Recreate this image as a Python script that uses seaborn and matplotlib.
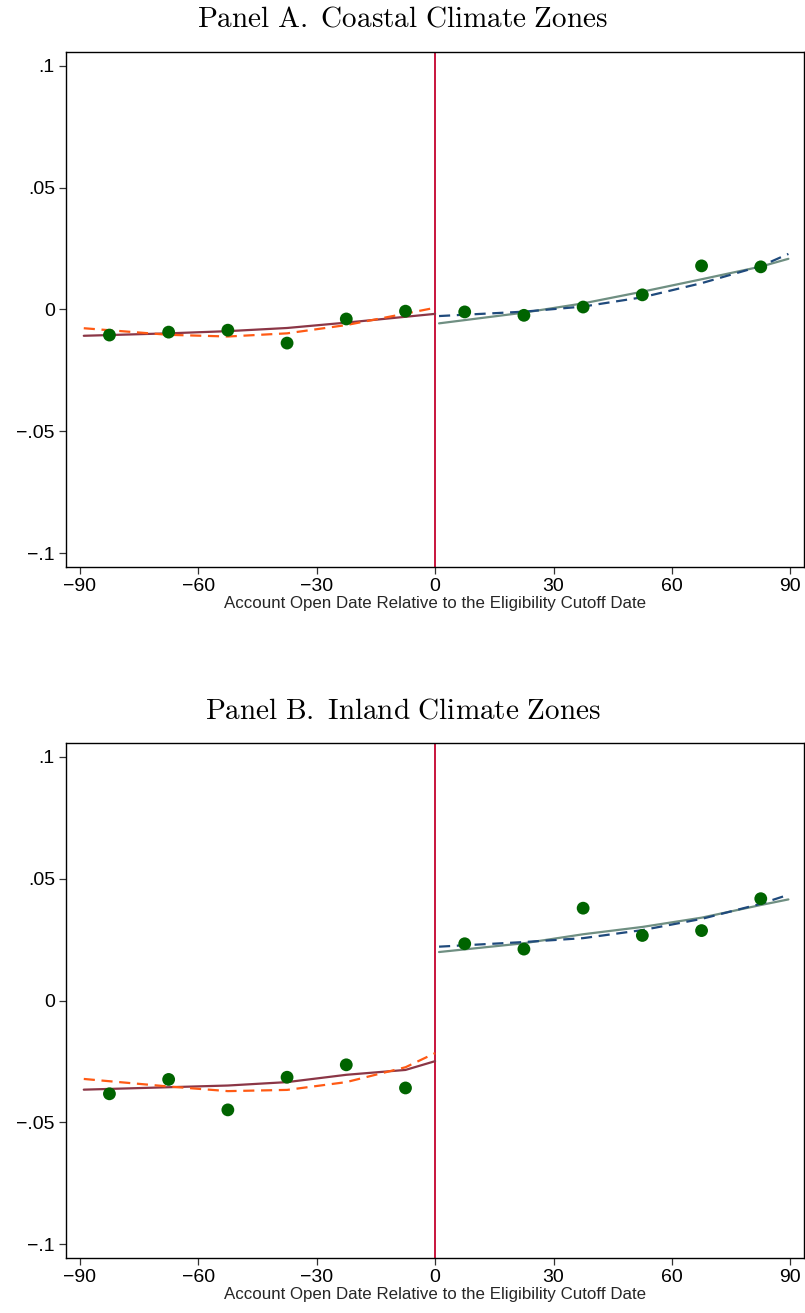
import seaborn as sns
from matplotlib import pyplot as plt
import pandas as pd
import numpy as np

sns.set_theme(style='white')
plt.rcParams['font.family'] = ['Liberation Sans', 'DejaVu Sans']
plt.rcParams['mathtext.fontset'] = 'cm'
plt.rcParams['text.color'] = 'black'
plt.rcParams['xtick.color'] = 'black'
plt.rcParams['ytick.color'] = 'black'

# binned means (15-day bins)
bins = [-82.5, -67.5, -52.5, -37.5, -22.5, -7.5, 7.5, 22.5, 37.5, 52.5, 67.5, 82.5]
coastal_pts = [-0.0105, -0.0093, -0.0085, -0.0138, -0.0039, -0.0007,
               -0.0010, -0.0024, 0.0010, 0.0060, 0.0179, 0.0175]
inland_pts = [-0.0383, -0.0324, -0.0449, -0.0315, -0.0264, -0.0359,
              0.0233, 0.0211, 0.0379, 0.0267, 0.0287, 0.0418]

# fitted curves, left and right of cutoff
left_x = [-89, -67.5, -52.5, -37.5, -22.5, -7.5, 0]
right_x = [1, 22.5, 37.5, 52.5, 67.5, 82.5, 89.5]

coastal_left_solid = [-0.0108, -0.0098, -0.0089, -0.0076, -0.0054, -0.0030, -0.0018]
coastal_left_dash = [-0.0077, -0.0104, -0.0111, -0.0098, -0.0064, -0.0017, 0.0007]
coastal_right_solid = [-0.0057, -0.0013, 0.0025, 0.0073, 0.0124, 0.0176, 0.0208]
coastal_right_dash = [-0.0027, -0.0009, 0.0012, 0.0050, 0.0108, 0.0178, 0.0228]

inland_left_solid = [-0.0366, -0.0356, -0.0349, -0.0335, -0.0305, -0.0285, -0.0249]
inland_left_dash = [-0.0322, -0.0353, -0.0372, -0.0367, -0.0335, -0.0274, -0.0216]
inland_right_solid = [0.0199, 0.0235, 0.0272, 0.0302, 0.0340, 0.0392, 0.0415]
inland_right_dash = [0.0221, 0.0240, 0.0256, 0.0289, 0.0335, 0.0397, 0.0434]

xticks = [-90, -60, -30, 0, 30, 60, 90]
xtick_labels = ['\u221290', '\u221260', '\u221230', '0', '30', '60', '90']
yticks = [-0.1, -0.05, 0, 0.05, 0.1]
ytick_labels = ['\u2212.1', '\u2212.05', '0', '.05', '.1']

titles = [r'$\mathrm{Panel\ A.\ Coastal\ Climate\ Zones}$',
          r'$\mathrm{Panel\ B.\ Inland\ Climate\ Zones}$']
xlabel = 'Account Open Date Relative to the Eligibility Cutoff Date'

fig = plt.figure(figsize=(8.05, 13.13), dpi=100)
ax_top = fig.add_axes([0.082, 0.5682, 0.917, 0.3922])
ax_bot = fig.add_axes([0.082, 0.0419, 0.917, 0.3922])

panels = [
    (ax_top, coastal_pts, coastal_left_solid, coastal_left_dash,
     coastal_right_solid, coastal_right_dash),
    (ax_bot, inland_pts, inland_left_solid, inland_left_dash,
     inland_right_solid, inland_right_dash),
]
title_y = [0.986, 0.459]

for i, (ax, pts, ls, ld, rs, rd) in enumerate(panels):
    ax.axvline(0, color='#C8143C', lw=1.4, zorder=1)
    sns.lineplot(x=left_x, y=ls, ax=ax, color='#8B3646', lw=1.6, zorder=2)
    sns.lineplot(x=left_x, y=ld, ax=ax, color='#FF5A14', lw=1.6,
                 linestyle=(0, (5, 3)), zorder=2)
    sns.lineplot(x=right_x, y=rs, ax=ax, color='#6F8F82', lw=1.6, zorder=2)
    sns.lineplot(x=right_x, y=rd, ax=ax, color='#1F4A7C', lw=1.6,
                 linestyle=(0, (5, 3)), zorder=2)
    sns.scatterplot(x=bins, y=pts, ax=ax, color='#006400', s=85,
                    edgecolor='none', zorder=3)

    ax.set_xlim(-93.5, 93.5)
    ax.set_ylim(-0.1057, 0.1057)
    ax.set_xticks(xticks)
    ax.set_xticklabels(xtick_labels)
    ax.set_yticks(yticks)
    ax.set_yticklabels(ytick_labels)
    ax.tick_params(direction='out', length=5, width=0.9, color='#333333',
                   labelsize=14, pad=3, bottom=True, left=True)
    for sp in ax.spines.values():
        sp.set_color('black')
        sp.set_linewidth(1.0)
    ax.set_xlabel(xlabel, fontsize=12.2, labelpad=1)
    ax.set_ylabel('')
    fig.text(0.5, title_y[i], titles[i], fontsize=21, ha='center', va='center')

plt.savefig('out.png', dpi=100)
